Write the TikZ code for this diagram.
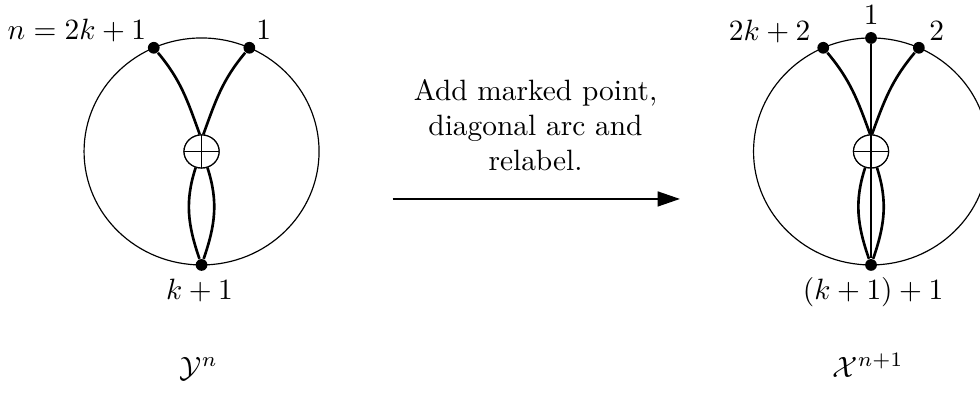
\documentclass[tikz,border=0pt]{standalone}
\usetikzlibrary{shapes.geometric,arrows.meta}

\begin{document}
\begin{tikzpicture}[
    disk/.style={thin},
    marked/.style={circle, fill, inner sep=0pt, minimum size=4pt},
    crossing/.style={ellipse, draw, thin, fill=white, inner sep=0pt,
        minimum width=0.42cm, minimum height=0.395cm,
        path picture={\draw[thin] (path picture bounding box.north) -- (path picture bounding box.south)
            (path picture bounding box.west) -- (path picture bounding box.east);}},
    arc/.style={line width=0.9pt},
    lab/.style={inner sep=0pt}
]
\useasboundingbox (0,0) rectangle (11.718,4.711);

% DISCO SINISTRO
\coordinate (cL) at (2.41,2.90);
\draw[disk] (cL) ellipse (1.405 and 1.357);
\begin{scope}[shift={(cL)}]
    \node[marked] (a) at (114:1.405 and 1.357) {};
    \node[marked] (b) at (66:1.405 and 1.357) {};
    \node[marked] (c) at (270:1.405 and 1.357) {};
    \node[crossing] (oL) at (0,0) {};
\end{scope}
\draw[arc] (a) to[out=-50, in=110] (oL.96);
\draw[arc] (b) to[out=-130, in=70] (oL.84);
\draw[arc] (oL.-110) to[out=-108, in=109] (c);
\draw[arc] (oL.-70) to[out=-72, in=71] (c);
\node[crossing] at (oL) {};

\node[lab, anchor=base east] (la) at (1.754,4.233) {$n = 2k+1$};
\node[lab, anchor=base] (lb) at (3.153,4.241) {$1$};
\node[lab, anchor=base] (lc) at (2.385,1.124) {$k+1$};
\node[lab, anchor=base] (nameL) at (2.379,0.203) {$\mathcal{Y}^n$};

% FRECCIA
\coordinate (s) at (4.695,2.332);
\coordinate (e) at (8.131,2.332);
\draw[thick, -{Triangle[length=7.6pt, width=5pt]}] (s) -- (e);
\node[lab, align=center] (txt) at (6.403,3.215) {Add marked point,\\ diagonal arc and\\ relabel.};

% DISCO DESTRO
\coordinate (cR) at (10.415,2.90);
\draw[disk] (cR) ellipse (1.405 and 1.357);
\begin{scope}[shift={(cR)}]
    \node[marked] (p) at (114:1.405 and 1.357) {};
    \node[marked] (q) at (90:1.405 and 1.357) {};
    \node[marked] (r) at (66:1.405 and 1.357) {};
    \node[marked] (d) at (270:1.405 and 1.357) {};
    \node[crossing] (oR) at (0,0) {};
\end{scope}
\draw[semithick] (q) -- (d);
\draw[arc] (p) to[out=-50, in=110] (oR.93);
\draw[arc] (r) to[out=-130, in=70] (oR.87);
\draw[arc] (oR.-110) to[out=-108, in=109] (d);
\draw[arc] (oR.-70) to[out=-72, in=71] (d);
\node[crossing] at (oR) {};

\node[lab, anchor=base east] (lp) at (9.697,4.225) {$2k+2$};
\node[lab, anchor=base] (lq) at (10.418,4.420) {$1$};
\node[lab, anchor=base] (lr) at (11.200,4.225) {$2$};
\node[lab, anchor=base] (ld) at (10.44,1.124) {$(k+1)+1$};
\node[lab, anchor=base] (nameR) at (10.379,0.203) {$\mathcal{X}^{n+1}$};

\end{tikzpicture}
\end{document}
